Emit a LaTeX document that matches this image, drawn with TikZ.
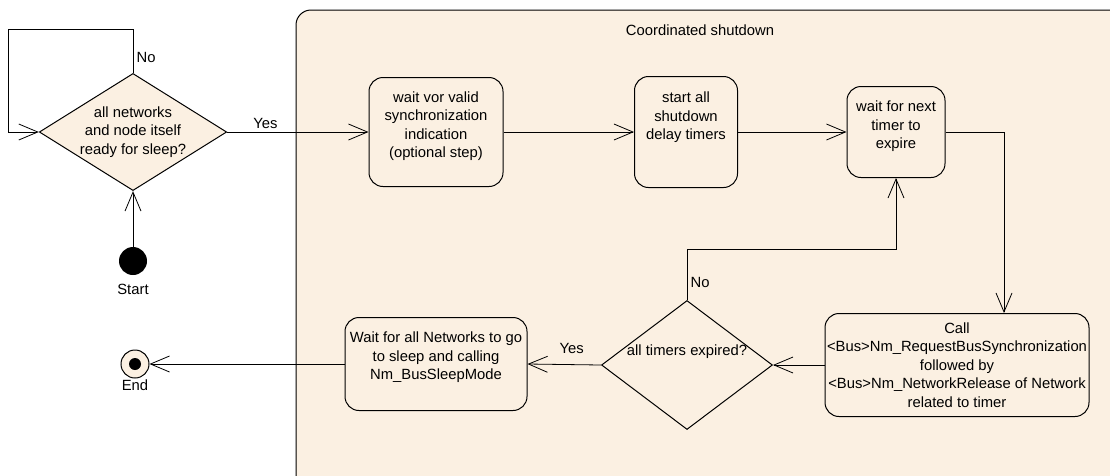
\documentclass[tikz,border=0pt]{standalone}
\usepackage{fontspec}
\setmainfont{Liberation Sans}
\usetikzlibrary{shapes.geometric,arrows.meta}

\definecolor{shutbg}{RGB}{251,240,226}

\tikzset{
	action/.style={draw, line width=1pt, fill=shutbg, rounded corners=14pt, align=center, inner sep=2pt},
	decision/.style={draw, diamond, line width=1pt, fill=shutbg, align=center, inner sep=0pt},
	flow/.style={->, line width=0.8pt},
}

\begin{document}
\begin{tikzpicture}[x=1pt,y=-1pt,font=\fontsize{14.8}{18.5}\selectfont,>={Straight Barb[length=19pt,width=16pt]}]
\useasboundingbox (0,0) rectangle (1110,475);

%----------------------------
% Container: coordinated shutdown
%----------------------------
\draw[line width=1pt, fill=shutbg, rounded corners=15pt] (296,10) rectangle (1130,495);
\node (title) at (700,30) {Coordinated shutdown};

%----------------------------
% Left: start and first decision
%----------------------------
\node[circle, fill=black, minimum size=28pt, inner sep=0pt,
	label={[label distance=5pt]below:Start}] (start) at (133,261) {};
\node[decision, aspect=1.6, minimum width=184pt, minimum height=114pt] (d1) at (133,132)
	{all networks\\and node itself\\ready for sleep?};

%----------------------------
% Upper row of actions
%----------------------------
\node[action, minimum width=134pt, minimum height=109pt] (b1) at (436,132)
	{wait vor valid\\synchronization\\indication\\(optional step)\\[-4pt]};
\node[action, minimum width=103pt, minimum height=111pt] (b2) at (686,132)
	{start all\\shutdown\\delay timers\\[14pt]};
\node[action, minimum width=98pt, minimum height=91pt] (b3) at (896,132)
	{wait for next\\timer to\\expire\\[-4pt]};

%----------------------------
% Lower row: call, decision, wait, end
%----------------------------
\node[action, minimum width=263pt, minimum height=103pt] (b4) at (957,365)
	{Call\\<Bus>Nm\_RequestBusSynchronization\\followed by\\<Bus>Nm\_NetworkRelease of Network\\related to timer};
\node[decision, aspect=1.33, minimum width=171pt, minimum height=129pt] (d2) at (687,365)
	{\raisebox{13pt}[\height][\depth]{all timers expired?}};
\node[action, minimum width=182pt, minimum height=93pt] (b5) at (436,364)
	{Wait for all Networks to go\\to sleep and calling\\Nm\_BusSleepMode\\[-2pt]};
\node[circle, draw, line width=1pt, fill=shutbg, minimum size=28pt, inner sep=0pt,
	label={[label distance=-2pt]below:End}] (endnode) at (135,364) {};
\fill (endnode) circle (6pt);

%----------------------------
% Arrows
%----------------------------
\draw[flow] (start.north) -- (d1.south);
\draw[flow] (d1.north) -- node[right, pos=0.35] {No} ++(0,-44)
	-| ([xshift=-30pt]d1.west) -- (d1.west);
\draw[flow] (d1.east) -- node[above, pos=0.27] {Yes} (b1.west);
\draw[flow] (b1.east) -- (b2.west);
\draw[flow] (b2.east) -- (b3.west);
\draw[flow] (b3.east) -| ([xshift=47pt]b4.north);
\draw[flow] (b4.west) -- (d2.east);
\draw[flow] (d2.north) -- node[right, pos=0.35] {No} ++(0,-51) -| (b3.south);
\draw[flow] (d2.west) -- node[above=7pt, pos=0.4] {Yes} (b5.east);
\draw[flow] (b5.west) -- (endnode.east);

\end{tikzpicture}
\end{document}
